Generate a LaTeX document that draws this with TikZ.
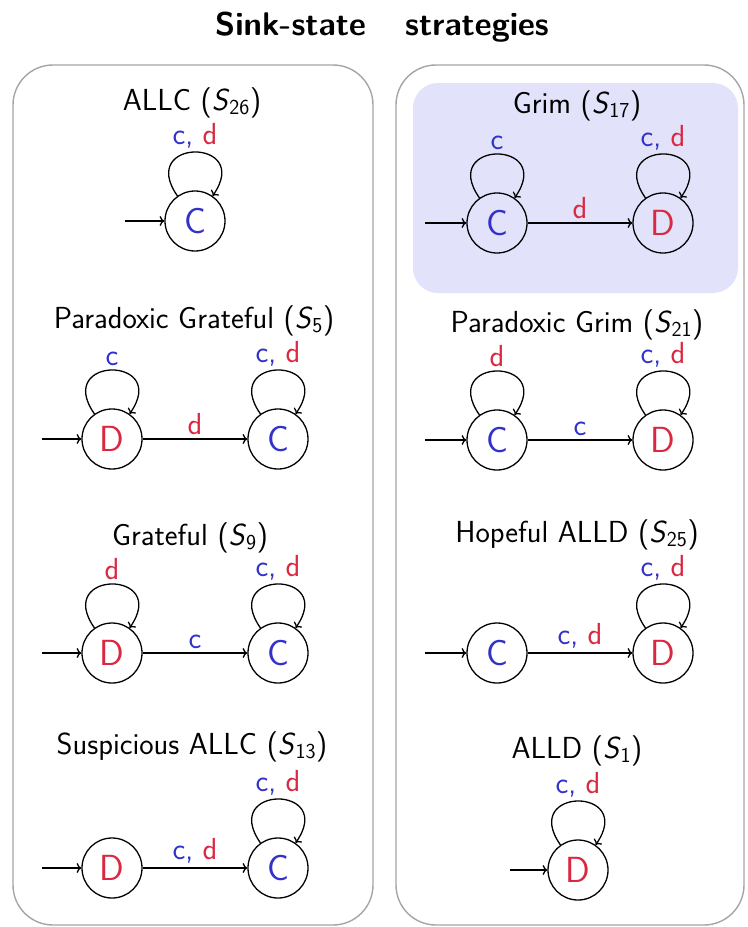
\documentclass[tikz,border=0pt]{standalone}
\usepackage{fontspec}
\usetikzlibrary{arrows.meta}

\definecolor{coopblue}{RGB}{50,50,200}
\definecolor{defred}{RGB}{218,40,65}
\definecolor{panelgray}{RGB}{165,165,165}
\definecolor{grimbg}{RGB}{226,226,250}

% action labels on the transitions
\newcommand{\actc}{\textcolor{coopblue}{c}}
\newcommand{\actd}{\textcolor{defred}{d}}
\newcommand{\actcd}{\textcolor{coopblue}{c,} \textcolor{defred}{d}}
\newcommand{\stratno}[1]{(\textit{S}\textsubscript{#1})}

\begin{document}
\begin{tikzpicture}[x=0.03cm, y=-0.03cm,
        every node/.style={font=\sffamily\fontsize{26}{30}\selectfont},
        panel/.style={draw=panelgray, line width=1.2pt, rounded corners=12mm},
        stratname/.style={},
        st/.style={circle, draw, line width=1.1pt, minimum size=1.8cm, inner sep=0pt, font=\sffamily\fontsize{31}{34}\selectfont},
        trans/.style={->, line width=1.1pt},
        selfloop/.style={->, line width=1.1pt, out=125, in=55, looseness=5.2},
        looplbl/.style={above, inner sep=3pt}
    ]
        \useasboundingbox (0,0) rectangle (747,927);

        \node[font=\sffamily\bfseries\fontsize{28}{32}\selectfont] (heading) at (382,27) {Sink-state\hspace{1.2em}strategies};

        % the two panels
        \fill[grimbg, rounded corners=7.5mm] (413,83) rectangle (738,293);
        \draw[panel] (13,65) rectangle (373,925);
        \draw[panel] (396,65) rectangle (744,925);

        % left panel
        \node[stratname] (allc) at (192,103) {ALLC \stratno{26}};
        \node[st, text=coopblue] (allcC) at (195,221) {C};
        \coordinate (allcIn) at (125,221);
        \draw[trans] (allcIn) -- (allcC);
        \draw[selfloop] (allcC) to node[looplbl] {\actcd} (allcC);

        \node[stratname] (pgrat) at (194,321) {Paradoxic Grateful \stratno{5}};
        \node[st, text=defred] (pgratD) at (112,439) {D};
        \node[st, text=coopblue] (pgratC) at (278,439) {C};
        \coordinate (pgratIn) at (42,439);
        \draw[trans] (pgratIn) -- (pgratD);
        \draw[trans] (pgratD) -- node[above] {\actd} (pgratC);
        \draw[selfloop] (pgratD) to node[looplbl] {\actc} (pgratD);
        \draw[selfloop] (pgratC) to node[looplbl] {\actcd} (pgratC);

        \node[stratname] (grat) at (190,538) {Grateful \stratno{9}};
        \node[st, text=defred] (gratD) at (112,653) {D};
        \node[st, text=coopblue] (gratC) at (278,653) {C};
        \coordinate (gratIn) at (42,653);
        \draw[trans] (gratIn) -- (gratD);
        \draw[trans] (gratD) -- node[above] {\actc} (gratC);
        \draw[selfloop] (gratD) to node[looplbl] {\actd} (gratD);
        \draw[selfloop] (gratC) to node[looplbl] {\actcd} (gratC);

        \node[stratname] (susp) at (192,747) {Suspicious ALLC \stratno{13}};
        \node[st, text=defred] (suspD) at (112,868) {D};
        \node[st, text=coopblue] (suspC) at (278,868) {C};
        \coordinate (suspIn) at (42,868);
        \draw[trans] (suspIn) -- (suspD);
        \draw[trans] (suspD) -- node[above] {\actcd} (suspC);
        \draw[selfloop] (suspC) to node[looplbl] {\actcd} (suspC);

        % right panel
        \node[stratname] (grim) at (577,106) {Grim \stratno{17}};
        \node[st, text=coopblue] (grimC) at (497,223) {C};
        \node[st, text=defred] (grimD) at (663,223) {D};
        \coordinate (grimIn) at (425,223);
        \draw[trans] (grimIn) -- (grimC);
        \draw[trans] (grimC) -- node[above] {\actd} (grimD);
        \draw[selfloop] (grimC) to node[looplbl] {\actc} (grimC);
        \draw[selfloop] (grimD) to node[looplbl] {\actcd} (grimD);

        \node[stratname] (pgrim) at (577,325) {Paradoxic Grim \stratno{21}};
        \node[st, text=coopblue] (pgrimC) at (497,440) {C};
        \node[st, text=defred] (pgrimD) at (663,440) {D};
        \coordinate (pgrimIn) at (425,440);
        \draw[trans] (pgrimIn) -- (pgrimC);
        \draw[trans] (pgrimC) -- node[above] {\actc} (pgrimD);
        \draw[selfloop] (pgrimC) to node[looplbl] {\actd} (pgrimC);
        \draw[selfloop] (pgrimD) to node[looplbl] {\actcd} (pgrimD);

        \node[stratname] (hope) at (577,535) {Hopeful ALLD \stratno{25}};
        \node[st, text=coopblue] (hopeC) at (497,653) {C};
        \node[st, text=defred] (hopeD) at (663,653) {D};
        \coordinate (hopeIn) at (425,653);
        \draw[trans] (hopeIn) -- (hopeC);
        \draw[trans] (hopeC) -- node[above] {\actcd} (hopeD);
        \draw[selfloop] (hopeD) to node[looplbl] {\actcd} (hopeD);

        \node[stratname] (alld) at (577,751) {ALLD \stratno{1}};
        \node[st, text=defred] (alldD) at (578,870) {D};
        \coordinate (alldIn) at (510,870);
        \draw[trans] (alldIn) -- (alldD);
        \draw[selfloop] (alldD) to node[looplbl] {\actcd} (alldD);
    \end{tikzpicture}
\end{document}
